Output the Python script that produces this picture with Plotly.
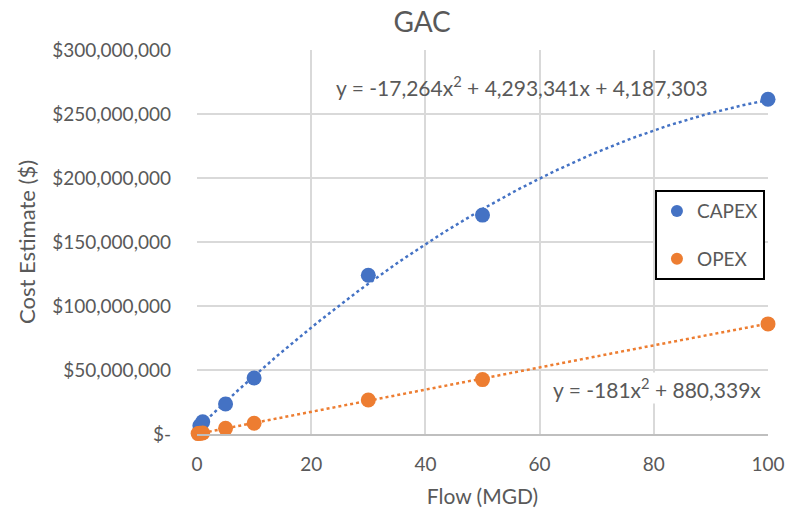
import numpy as np
import plotly.graph_objects as go

# Data
capex_flow = [0.5, 1, 5, 10, 30, 50, 100]
capex_cost = [6.5e6, 9.5e6, 23.4e6, 43.7e6, 124e6, 171e6, 261.5e6]
opex_flow = [0.2, 0.5, 1, 5, 10, 30, 50, 100]
opex_cost = [0.3e6, 0.5e6, 0.8e6, 4.4e6, 8.4e6, 26.6e6, 42.5e6, 86e6]

# Trendline coefficients as printed on the chart
capex_coef = [-17264, 4293341, 4187303]
opex_coef = [-181, 880339, 0]

ytick_vals = [0, 50e6, 100e6, 150e6, 200e6, 250e6, 300e6]
ytick_text = ["$-", "$50,000,000", "$100,000,000", "$150,000,000",
              "$200,000,000", "$250,000,000", "$300,000,000"]
xtick_vals = [0, 20, 40, 60, 80, 100]

BLUE = "#4472C4"
ORANGE = "#ED7D31"
GREY = "#595959"
FONT = "Lato"

xs = np.linspace(0, 100, 201)
capex_trend = np.polyval(capex_coef, xs)
opex_trend = np.polyval(opex_coef, xs)

fig = go.Figure()
fig.add_trace(go.Scatter(x=xs, y=capex_trend, mode="lines",
                         line=dict(color=BLUE, width=2.5, dash="dot"),
                         showlegend=False, hoverinfo="skip"))
fig.add_trace(go.Scatter(x=xs, y=opex_trend, mode="lines",
                         line=dict(color=ORANGE, width=2.5, dash="dot"),
                         showlegend=False, hoverinfo="skip"))
fig.add_trace(go.Scatter(x=capex_flow, y=capex_cost, mode="markers", name="CAPEX",
                         legendgroup="a",
                         marker=dict(color=BLUE, size=15), cliponaxis=False))
fig.add_trace(go.Scatter(x=opex_flow, y=opex_cost, mode="markers", name="OPEX",
                         legendgroup="b",
                         marker=dict(color=ORANGE, size=15), cliponaxis=False))

fig.update_layout(
    width=789, height=523,
    margin=dict(l=197, r=21, t=50, b=89),
    paper_bgcolor="white", plot_bgcolor="white",
    font=dict(family=FONT, color=GREY, size=19),
    title=dict(text="GAC", x=0.535, xanchor="center", y=0.958, yanchor="middle",
               font=dict(size=28, color=GREY, family=FONT)),
    xaxis=dict(range=[0, 100], tickvals=xtick_vals, showgrid=True,
               gridcolor="#D9D9D9", gridwidth=1.5, zeroline=False,
               showline=True, linecolor="#BFBFBF", linewidth=1.5,
               ticks="", ticklabelstandoff=12, tickfont=dict(size=19, color=GREY),
               automargin=False, ticklabeloverflow="allow",
               title=dict(text="Flow (MGD)", font=dict(size=21, color=GREY), standoff=16)),
    yaxis=dict(range=[0, 300e6], tickvals=ytick_vals, ticktext=ytick_text,
               showgrid=True, gridcolor="#D9D9D9", gridwidth=1.5, zeroline=False,
               showline=False, ticks="", ticklabelstandoff=25,
               tickfont=dict(size=19, color=GREY), automargin=False,
               ticklabeloverflow="allow",
               title=dict(text="Cost Estimate ($)", font=dict(size=22, color=GREY), standoff=10)),
    legend=dict(x=0.802, y=0.635, xanchor="left", yanchor="top",
                bgcolor="white", bordercolor="black", borderwidth=2,
                font=dict(size=19, color=GREY), itemsizing="constant",
                tracegroupgap=20),
    showlegend=True,
)

fig.add_annotation(xref="x", yref="y", x=57, y=272e6,
                   text="y = -17,264x<sup>2</sup> + 4,293,341x + 4,187,303",
                   showarrow=False, font=dict(size=21, color=GREY), xanchor="center")
fig.add_annotation(xref="x", yref="y", x=80.6, y=36e6,
                   text="y = -181x<sup>2</sup> + 880,339x",
                   showarrow=False, font=dict(size=21, color=GREY), xanchor="center",
                   bgcolor="white")

fig.write_html("out.html")
